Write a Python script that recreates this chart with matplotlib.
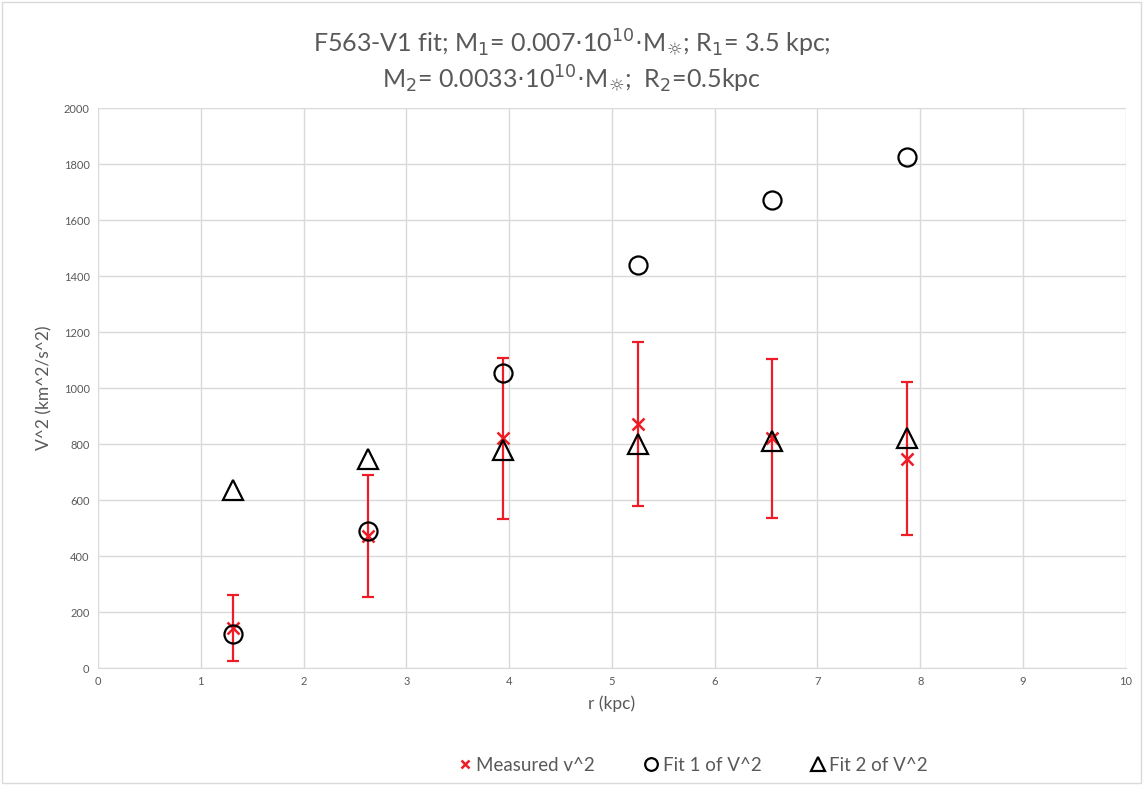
import numpy as np
import matplotlib.pyplot as plt
from matplotlib.patches import Rectangle

plt.rcParams['font.family'] = ['Lato', 'DejaVu Sans']

# datos
r = [1.31, 2.63, 3.94, 5.25, 6.56, 7.87]
measured = [143, 471, 820, 871, 820, 748]
measured_err = [119, 218, 286, 293, 285, 273]
fit1 = [120, 490, 1055, 1440, 1670, 1825]
fit2 = [635, 745, 780, 800, 810, 820]

gray = '#595959'
red = '#ee1c25'

fig = plt.figure(figsize=(11.43, 7.85), dpi=100)
ax = fig.add_axes([0.0857, 0.149, 0.8993, 0.7134])

ax.errorbar(r, measured, yerr=measured_err, fmt='none', ecolor=red,
            elinewidth=1.6, capsize=4, capthick=1.6, zorder=3)
ax.plot(r, measured, linestyle='none', marker='x', color=red,
        markersize=8, markeredgewidth=1.8, label='Measured v^2', zorder=4)
ax.plot(r, fit1, linestyle='none', marker='o', markerfacecolor='none',
        markeredgecolor='black', markersize=13, markeredgewidth=1.6,
        label='Fit 1 of V^2', zorder=5)
ax.plot(r, fit2, linestyle='none', marker='^', markerfacecolor='none',
        markeredgecolor='black', markersize=14, markeredgewidth=1.6,
        label='Fit 2 of V^2', zorder=5)

ax.set_xlim(0, 10)
ax.set_ylim(0, 2000)
ax.set_xticks(np.arange(0, 11, 1))
ax.set_yticks(np.arange(0, 2001, 200))
ax.grid(True, color='#d9d9d9', linewidth=1)
ax.set_axisbelow(True)
for s in ['top', 'right', 'left']:
    ax.spines[s].set_visible(False)
ax.spines['bottom'].set_color('#d9d9d9')
ax.tick_params(length=0, labelsize=8, labelcolor=gray, pad=6)

ax.set_xlabel('r (kpc)', fontsize=12.5, color=gray, labelpad=6)
ax.set_ylabel('V^2 (km^2/s^2)', fontsize=12.5, color=gray, labelpad=8)

# titulo en dos lineas
fig.text(0.5, 0.946, r'F563-V1 fit; M$_1$= 0.007$\cdot$10$^{10}$$\cdot$M$_{☼}$; R$_1$= 3.5 kpc;',
         ha='center', va='center', fontsize=18, color=gray)
fig.text(0.5, 0.900, r'M$_2$= 0.0033$\cdot$10$^{10}$$\cdot$M$_{☼}$;  R$_2$=0.5kpc',
         ha='center', va='center', fontsize=18, color=gray)

leg = fig.legend(loc='center', bbox_to_anchor=(0.606, 0.025), ncol=3, frameon=False,
                 fontsize=13.5, handlelength=0.8, handletextpad=0.2,
                 columnspacing=2.6, markerscale=0.7)
for t in leg.get_texts():
    t.set_color(gray)

fig.patches.append(Rectangle((0.002, 0.003), 0.996, 0.994, transform=fig.transFigure,
                             fill=False, edgecolor='#d9d9d9', linewidth=1))

fig.savefig('out.png', dpi=100)
